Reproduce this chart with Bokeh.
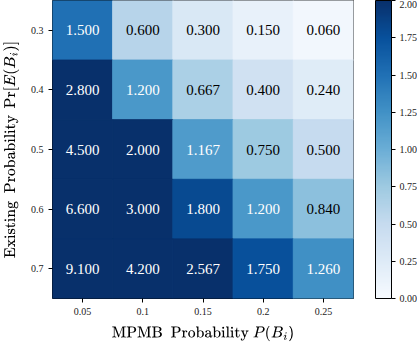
from bokeh.plotting import figure
from bokeh.models import ColumnDataSource, LinearColorMapper, ColorBar, FixedTicker, NumeralTickFormatter, FactorRange
from bokeh.palettes import Blues256
from bokeh.transform import transform
from bokeh.core.properties import value
from bokeh.embed import file_html
from bokeh.resources import INLINE

x_labels = ["0.05", "0.1", "0.15", "0.2", "0.25"]
y_labels = ["0.3", "0.4", "0.5", "0.6", "0.7"]
row_03 = [1.5, 0.6, 0.3, 0.15, 0.06]
row_04 = [2.8, 1.2, 0.667, 0.4, 0.24]
row_05 = [4.5, 2.0, 1.167, 0.75, 0.5]
row_06 = [6.6, 3.0, 1.8, 1.2, 0.84]
row_07 = [9.1, 4.2, 2.567, 1.75, 1.26]
rows = [row_03, row_04, row_05, row_06, row_07]
cbar_ticks = [0.0, 0.25, 0.5, 0.75, 1.0, 1.25, 1.5, 1.75, 2.0]

xs, ys, vals, labels, tcolors = [], [], [], [], []
for yl, row in zip(y_labels, rows):
    for xl, v in zip(x_labels, row):
        xs.append(xl)
        ys.append(yl)
        vals.append(v)
        labels.append("%.3f" % v)
        tcolors.append("white" if v > 1.0 else "black")

src = ColumnDataSource(dict(x=xs, y=ys, v=vals, label=labels, tc=tcolors))

FONT = "Liberation Serif"
mapper = LinearColorMapper(palette=list(Blues256[::-1]), low=0, high=2)

p = figure(x_range=FactorRange(*x_labels), y_range=FactorRange(*y_labels[::-1]),
           frame_width=301, frame_height=298,
           output_backend="svg", toolbar_location=None,
           min_border_left=36, min_border_top=0, min_border_right=0, min_border_bottom=0)
p.rect(x="x", y="y", width=1, height=1, source=src,
       fill_color=transform("v", mapper), line_color=transform("v", mapper), line_width=1)
p.text(x="x", y="y", text="label", source=src, text_color="tc",
       text_align="center", text_baseline="middle",
       text_font=value(FONT), text_font_size="15px")

p.grid.visible = False
p.outline_line_color = "black"
p.outline_line_width = 1
p.outline_line_alpha = 1
for ax in (p.xaxis[0], p.yaxis[0]):
    ax.axis_line_color = None
    ax.major_tick_line_color = "black"
    ax.major_tick_out = 4
    ax.major_tick_in = 0
    ax.minor_tick_line_color = None
    ax.major_label_text_font = FONT
    ax.major_label_text_font_size = "10px"
    ax.major_label_text_color = "#222222"
    ax.axis_label_text_font = FONT
    ax.axis_label_text_font_size = "14px"
    ax.axis_label_text_font_style = "normal"
    ax.axis_label_text_color = "black"
    ax.major_label_standoff = 5
p.xaxis.axis_label_standoff = 8
p.yaxis.axis_label_standoff = 9
p.xaxis.axis_label = "MPMB\u00a0\u00a0Probability\u00a0\u00a0$$P(B_i)$$"
p.yaxis.axis_label = "Existing\u00a0\u00a0Probability\u00a0\u00a0$$\\Pr[E(B_i)]$$"
p.yaxis.major_label_orientation = 0

cb = ColorBar(color_mapper=mapper, width=16, height=298,
              ticker=FixedTicker(ticks=cbar_ticks),
              formatter=NumeralTickFormatter(format="0.00"),
              major_label_text_font=FONT, major_label_text_font_size="10px",
              major_label_text_color="#222222",
              major_tick_line_color="black", major_tick_out=4, major_tick_in=0,
              minor_tick_line_color=None,
              bar_line_color="black", border_line_color=None,
              padding=0, margin=0, location=(22, 0), label_standoff=4)
p.add_layout(cb, "right")

open("out.html", "w").write(file_html(p, INLINE))
